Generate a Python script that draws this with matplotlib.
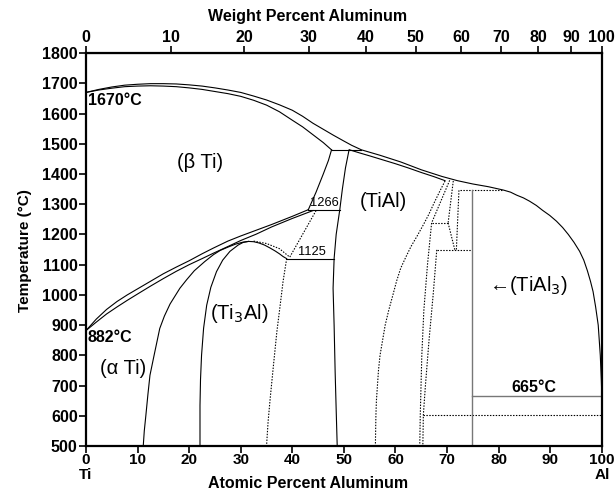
import numpy as np
import matplotlib
matplotlib.use("Agg")
import matplotlib.pyplot as plt

plt.rcParams['font.family'] = ['Liberation Sans', 'DejaVu Sans']

# liquidus and beta solidus (at% Al, deg C)
liq_x = [0, 2.5, 5, 7.5, 10, 12.5, 15, 17.5, 20, 22.5, 25, 27.5, 30, 32.5, 35, 37.5, 40,
         42, 44, 46, 48, 50, 51.5, 53.4, 57, 61, 65, 69, 72, 75, 78, 80.9, 82.3, 83.5,
         84.8, 86, 87.3, 88.5, 89.9, 91.2, 92.4, 93.5, 94.6, 95.7, 96.5, 97.2, 97.8, 98.3,
         98.8, 99.3, 99.5, 99.7, 99.9, 100]
liq_T = [1670, 1680, 1688, 1694, 1697, 1699, 1699, 1698, 1695, 1691, 1685, 1678, 1670, 1658,
         1645, 1629, 1611, 1591, 1568, 1548, 1528, 1509, 1495, 1480, 1462, 1440, 1414, 1392,
         1378, 1367, 1358, 1347, 1340, 1330, 1321, 1310, 1296, 1280, 1263, 1244, 1223, 1200,
         1174, 1144, 1115, 1080, 1045, 1011, 960, 900, 850, 800, 720, 665]
bsol_x = [0, 2.5, 5, 7.5, 10, 12.5, 15, 17.5, 20, 22.5, 25, 27.5, 30, 32.5, 35, 37.5, 40,
          42, 44, 46, 47.6]
bsol_T = [1670, 1678, 1684, 1689, 1691, 1692, 1691, 1689, 1685, 1680, 1673, 1666, 1657, 1644,
          1628, 1606, 1578, 1556, 1530, 1504, 1480]

# TiAl solidus
tsol_x = [51.1, 53, 55, 57.5, 60, 62.5, 65, 67.5, 69.6]
tsol_T = [1480, 1470, 1460, 1447, 1434, 1420, 1405, 1391, 1378]

# beta transus and alpha boundary
btr_x = [0, 2, 4, 6, 8, 10, 12.5, 15, 17.5, 20, 22.5, 24.7, 27.5, 30, 33, 36, 40, 43.1]
btr_T = [882, 920, 952, 978, 1000, 1020, 1045, 1070, 1092, 1113, 1136, 1155, 1178, 1195,
         1214, 1233, 1260, 1282]
alo_x = [0, 2, 4, 6, 8, 10, 12.5, 15, 17.5, 20, 22.5, 24.7, 27.5, 30, 33, 36, 40, 44]
alo_T = [882, 910, 937, 960, 982, 1003, 1029, 1054, 1078, 1100, 1120, 1138, 1160, 1180,
         1201, 1225, 1253, 1279]

# alpha / alpha+Ti3Al
aa2_x = [11.1, 11.3, 11.6, 12, 12.4, 13.2, 14.3, 15.2, 16.3, 18.2, 19.5, 21, 23, 24.7, 26,
         27.5, 29, 30.3, 31.5]
aa2_T = [500, 550, 600, 670, 734, 800, 889, 930, 970, 1022, 1050, 1080, 1110, 1133, 1147,
         1158, 1168, 1174, 1177]
# Ti3Al dome
a2l_x = [22.1, 22.1, 22.2, 22.4, 22.8, 23.4, 24.2, 25.3, 26.5, 27.9, 29.5, 30.5, 31.5, 32.5,
         33.5, 34.6, 35.7, 36.7, 37.5, 38.2, 38.9]
a2l_T = [500, 634, 720, 800, 890, 966, 1025, 1077, 1115, 1144, 1165, 1174, 1177, 1176, 1172,
         1165, 1155, 1145, 1136, 1127, 1120]
# Ti3Al dotted
a2d_x = [32.5, 35, 37.5, 39.5, 44.7]
a2d_T = [1178, 1170, 1153, 1125, 1282]
a2r_x = [38.9, 38.2, 37.6, 37, 36.3, 35.7, 35.3, 35]
a2r_T = [1120, 1044, 960, 878, 760, 656, 580, 500]

# TiAl boundaries
tl_x = [51.0, 50.3, 49.7, 49.2, 48.5, 48.1, 47.9, 48.1, 48.3, 48.5, 48.7]
tl_T = [1480, 1420, 1350, 1282, 1200, 1120, 1022, 900, 745, 620, 500]
bl_x = [43.1, 44.6, 46, 47, 47.6]
bl_T = [1282, 1340, 1400, 1445, 1480]
tr_x = [69.6, 68.5, 67.5, 66.5, 65.4, 64.2, 63, 62, 61, 60.2, 59.5, 58.7, 58, 57.5, 57, 56.7,
        56.5, 56.3, 56.2, 56.1]
tr_T = [1377, 1340, 1305, 1268, 1232, 1195, 1160, 1125, 1088, 1045, 1000, 950, 900, 850, 800,
        750, 700, 650, 600, 500]

# TiAl2 / Ti5Al11 region (dotted)
l1_x = [70.5, 67.0]; l1_T = [1379, 1238]
l2_x = [71.2, 70.2]; l2_T = [1377, 1238]
h1_x = [67.0, 70.2]; h1_T = [1238, 1238]
d1_x = [70.2, 71.5]; d1_T = [1238, 1149]
l3_x = [72.3, 71.8]; l3_T = [1346, 1149]
h2_x = [68.0, 74.8]; h2_T = [1149, 1149]
ht_x = [72.5, 80.9]; ht_T = [1347, 1347]
b1_x = [67.0, 66.2, 65.5, 65.1, 64.8, 64.7]
b1_T = [1238, 1100, 950, 800, 600, 500]
b2_x = [68.0, 67.3, 66.5, 65.8, 65.4, 65.3]
b2_T = [1149, 1000, 850, 700, 603, 500]
h600_x = [65.4, 100]; h600_T = [603, 603]

# TiAl3 and 665 line
tial3_x = [74.9, 74.9]; tial3_T = [1347, 500]
h665_x = [74.9, 100]; h665_T = [665, 665]

# isotherms
h1480_x = [47.6, 53.4]; h1480_T = [1480, 1480]
h1266_x = [43.1, 49.2]; h1266_T = [1282, 1282]
h1125_x = [38.9, 48.1]; h1125_T = [1120, 1120]


def at2wt(a):
    a = np.asarray(a, dtype=float)
    return a * 26.98 / (a * 26.98 + (100 - a) * 47.87) * 100


def wt2at(w):
    w = np.asarray(w, dtype=float)
    return (w / 26.98) / (w / 26.98 + (100 - w) / 47.87) * 100


fig = plt.figure(figsize=(6.16, 4.92), dpi=100)
ax = fig.add_axes([0.1396, 0.0935, 0.8374, 0.7985])

solid = dict(color='black', lw=0.8)
dot = dict(color='black', lw=0.8, ls=(0, (1.3, 1.3)))

for xs, ts in [(liq_x, liq_T), (bsol_x, bsol_T), (tsol_x, tsol_T), (btr_x, btr_T),
               (alo_x, alo_T), (aa2_x, aa2_T), (a2l_x, a2l_T), (tl_x, tl_T),
               (bl_x, bl_T), (h1480_x, h1480_T), (h1266_x, h1266_T), (h1125_x, h1125_T)]:
    ax.plot(xs, ts, **solid)

for xs, ts in [(a2d_x, a2d_T), (a2r_x, a2r_T), (tr_x, tr_T), (l1_x, l1_T), (l2_x, l2_T),
               (h1_x, h1_T), (d1_x, d1_T), (l3_x, l3_T), (h2_x, h2_T), (ht_x, ht_T),
               (b1_x, b1_T), (b2_x, b2_T), (h600_x, h600_T)]:
    ax.plot(xs, ts, **dot)

ax.plot(tial3_x, tial3_T, color='#777777', lw=1.0)
ax.plot(h665_x, h665_T, color='#777777', lw=1.0)

ax.set_xlim(0, 100)
ax.set_ylim(500, 1800)
ax.set_xticks(range(0, 101, 10))
ax.set_yticks(range(500, 1801, 100))
for sp in ax.spines.values():
    sp.set_linewidth(1.6)
ax.tick_params(direction='out', length=5, width=1.2, labelsize=11.5, pad=1)
ax.tick_params(axis='x', labelsize=11, pad=0)
for lab in ax.get_xticklabels() + ax.get_yticklabels():
    lab.set_fontweight('bold')

top = ax.secondary_xaxis('top', functions=(at2wt, wt2at))
top.set_xticks(range(0, 101, 10))
top.tick_params(direction='out', length=5, width=1.2, labelsize=11.5, pad=1)
for lab in top.get_xticklabels():
    lab.set_fontweight('bold')

fig.text(0.5, 0.966, 'Weight Percent Aluminum', fontsize=11.5, fontweight='bold',
         ha='center', va='center')
fig.text(0.5, 0.017, 'Atomic Percent Aluminum', fontsize=11.5, fontweight='bold',
         ha='center', va='center')
fig.text(0.04, 0.49, 'Temperature (°C)', fontsize=11, fontweight='bold',
         ha='center', va='center', rotation=90)

fig.text(0.1396, 0.035, 'Ti', ha='center', va='center', fontsize=11, fontweight='bold')
fig.text(0.977, 0.035, 'Al', ha='center', va='center', fontsize=11, fontweight='bold')

ax.text(0.45, 1644, '1670°C', fontsize=11.5, fontweight='bold', va='center', ha='left')
ax.text(0.2, 858, '882°C', fontsize=11.5, fontweight='bold', va='center', ha='left')
ax.text(86.8, 693, '665°C', fontsize=11.5, fontweight='bold', va='center', ha='center')

reg = dict(fontsize=14.5, ha='center', va='center')
ax.text(22.1, 1438, '(β Ti)', **reg)
ax.text(7.2, 756, '(α Ti)', **reg)
ax.text(29.8, 939, '(Ti$_3$Al)', **reg)
ax.text(57.6, 1310, '(TiAl)', **reg)
ax.text(78.2, 1030, '←(TiAl$_3$)', fontsize=14.5, ha='left', va='center')

small = dict(fontsize=9.3, ha='center', va='bottom')
ax.text(46.2, 1284, '1266', **small)
ax.text(43.8, 1122, '1125', **small)

fig.savefig('out.png', dpi=100)
